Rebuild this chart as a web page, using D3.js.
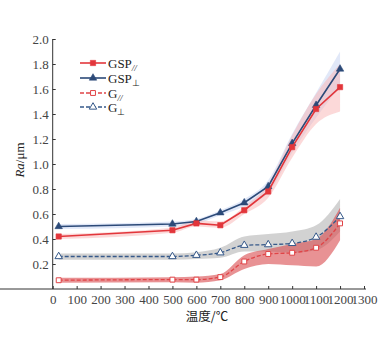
<!DOCTYPE html>
<html><head><meta charset="utf-8">
<script src="https://cdn.jsdelivr.net/npm/d3@7"></script>
<style>body{margin:0;background:#fff}svg{display:block}</style>
</head><body><svg id="c" width="392" height="337"></svg>
<script>
const temps = [25, 500, 600, 700, 800, 900, 1000, 1100, 1200];
const gspPar = [0.42, 0.47, 0.525, 0.51, 0.63, 0.78, 1.135, 1.44, 1.615];
const gspParLo = [0.40, 0.45, 0.50, 0.49, 0.60, 0.73, 1.05, 1.32, 1.42];
const gspParHi = [0.44, 0.49, 0.55, 0.54, 0.66, 0.84, 1.23, 1.56, 1.80];
const gspPerp = [0.50, 0.52, 0.54, 0.61, 0.69, 0.82, 1.165, 1.47, 1.76];
const gspPerpLo = [0.48, 0.50, 0.52, 0.59, 0.66, 0.77, 1.09, 1.37, 1.62];
const gspPerpHi = [0.52, 0.54, 0.56, 0.63, 0.72, 0.87, 1.24, 1.57, 1.90];
const gPar = [0.07, 0.075, 0.075, 0.095, 0.22, 0.28, 0.29, 0.33, 0.525];
const gParLo = [0.05, 0.055, 0.05, 0.07, 0.16, 0.20, 0.19, 0.18, 0.39];
const gParHi = [0.09, 0.095, 0.10, 0.12, 0.27, 0.32, 0.36, 0.40, 0.65];
const gPerp = [0.26, 0.26, 0.27, 0.29, 0.35, 0.355, 0.365, 0.415, 0.58];
const gPerpLo = [0.235, 0.235, 0.24, 0.25, 0.30, 0.30, 0.29, 0.31, 0.46];
const gPerpHi = [0.285, 0.285, 0.295, 0.33, 0.42, 0.44, 0.46, 0.51, 0.72];
const xTicks = [0,100,200,300,400,500,600,700,800,900,1000,1100,1200,1300];
const yTicks = [0.2,0.4,0.6,0.8,1.0,1.2,1.4,1.6,1.8,2.0];

const svg = d3.select("#c");
const x = d3.scaleLinear().domain([0,1300]).range([52.7,364]);
const y = d3.scaleLinear().domain([0,2.0]).range([289,39]);
const serif = "Liberation Serif, Times New Roman, serif";

function series(vals, lo, hi){ return temps.map((t,i)=>({t, v:vals[i], lo:lo[i], hi:hi[i]})); }
const S = [
  {name:"gspPerp", d:series(gspPerp,gspPerpLo,gspPerpHi), band:"#c9d5f3", bop:0.55, color:"#2c4a78", dash:null, marker:"triangle", fill:true, curve:d3.curveLinear},
  {name:"gspPar", d:series(gspPar,gspParLo,gspParHi), band:"#fab4b4", bop:0.5, color:"#e2363b", dash:null, marker:"square", fill:true, curve:d3.curveLinear},
  {name:"gPerp", d:series(gPerp,gPerpLo,gPerpHi), band:"#b4b4b4", bop:0.6, color:"#36598a", dash:"4,2", marker:"triangle", fill:false, curve:d3.curveMonotoneX},
  {name:"gPar", d:series(gPar,gParLo,gParHi), band:"#d9494c", bop:0.6, color:"#e04447", dash:"4,2", marker:"square", fill:false, curve:d3.curveMonotoneX},
];

// bands
S.forEach(s=>{
  svg.append("path").datum(s.d)
    .attr("d", d3.area().x(d=>x(d.t)).y0(d=>y(d.lo)).y1(d=>y(d.hi)).curve(d3.curveMonotoneX))
    .attr("fill", s.band).attr("fill-opacity", s.bop).attr("stroke","none");
});

// axes
const xa = svg.append("g").attr("transform","translate(0,289)")
  .call(d3.axisBottom(x).tickValues(xTicks).tickSizeInner(-3).tickSizeOuter(0).tickPadding(6).tickFormat(d3.format("d")));
const ya = svg.append("g").attr("transform","translate(52.7,0)")
  .call(d3.axisLeft(y).tickValues(yTicks).tickSizeInner(-3).tickSizeOuter(0).tickPadding(4).tickFormat(d3.format(".1f")));
[xa,ya].forEach(a=>{
  a.select(".domain").attr("stroke","#333").attr("stroke-width",1);
  a.selectAll(".tick line").attr("stroke","#333");
  a.selectAll("text").attr("font-family",serif).attr("font-size",13).attr("fill","#444");
});
ya.select(".domain").attr("d","M0,289V39");
xa.select(".domain").attr("d","M0,0H366");

// lines + markers
const sym = {square:d3.symbolSquare, triangle:d3.symbolTriangle};
function drawMarker(g, s, cx, cy){
  const size = s.marker==="square" ? (s.fill?28:24) : (s.fill?24:24);
  g.append("path").attr("d", d3.symbol().type(sym[s.marker]).size(size)())
    .attr("transform",`translate(${cx},${cy})`)
    .attr("fill", s.fill ? s.color : "#fff").attr("stroke", s.color).attr("stroke-width", s.fill?0.6:1);
}
S.forEach(s=>{
  svg.append("path").datum(s.d)
    .attr("d", d3.line().x(d=>x(d.t)).y(d=>y(d.v)).curve(s.curve))
    .attr("fill","none").attr("stroke",s.color).attr("stroke-width", s.dash?1.3:1.6)
    .attr("stroke-dasharray", s.dash);
  const g = svg.append("g");
  s.d.forEach(d=>drawMarker(g, s, x(d.t), y(d.v)));
});

// legend
const leg = [
  {s:S[1], main:"GSP", sub:"//", italic:true, yy:63},
  {s:S[0], main:"GSP", sub:"⊥", italic:false, yy:78},
  {s:S[3], main:"G", sub:"//", italic:true, yy:93},
  {s:S[2], main:"G", sub:"⊥", italic:false, yy:107},
];
leg.forEach(l=>{
  const g = svg.append("g");
  g.append("line").attr("x1",80).attr("x2",106).attr("y1",l.yy).attr("y2",l.yy)
    .attr("stroke",l.s.color).attr("stroke-width", l.s.dash?1.3:1.6).attr("stroke-dasharray", l.s.dash);
  drawMarker(g, l.s, 93, l.yy);
  const t = g.append("text").attr("x",108).attr("y",l.yy+4.5).attr("font-family",serif).attr("font-size",13).attr("fill","#222");
  t.append("tspan").text(l.main);
  t.append("tspan").attr("dy",3).attr("font-size",9).attr("font-style",l.italic?"italic":"normal").text(l.sub);
});

// axis titles
const yl = svg.append("text").attr("transform","translate(24,160) rotate(-90)").attr("text-anchor","middle")
  .attr("font-family",serif).attr("font-size",13).attr("fill","#222");
yl.append("tspan").attr("font-style","italic").text("Ra");
yl.append("tspan").text("/μm");
svg.append("text").attr("x",207).attr("y",321).attr("text-anchor","middle")
  .attr("font-family","Noto Sans CJK SC, sans-serif").attr("font-size",12.5).attr("fill","#222").text("温度/℃");
</script></body></html>
